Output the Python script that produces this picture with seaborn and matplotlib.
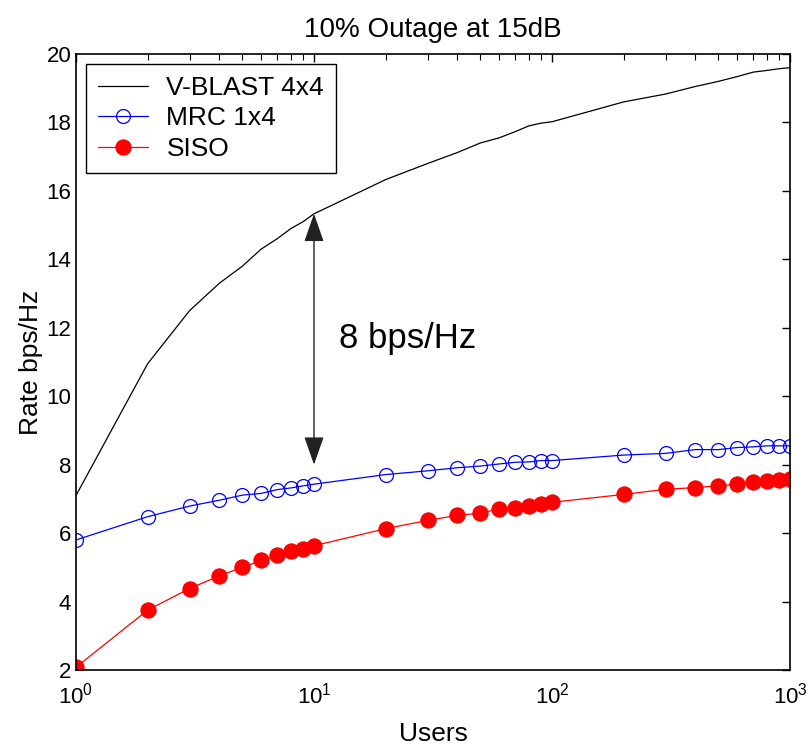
import numpy as np
import pandas as pd
import matplotlib
matplotlib.use("Agg")
import matplotlib.pyplot as plt
import seaborn as sns

users = [1, 2, 3, 4, 5, 6, 7, 8, 9, 10,
         20, 30, 40, 50, 60, 70, 80, 90, 100,
         200, 300, 400, 500, 600, 700, 800, 900, 1000]
vblast = [7.1, 10.95, 12.5, 13.3, 13.8, 14.3, 14.6, 14.9, 15.1, 15.33,
          16.33, 16.8, 17.12, 17.4, 17.55, 17.73, 17.9, 17.98, 18.02,
          18.6, 18.83, 19.05, 19.2, 19.34, 19.47, 19.52, 19.57, 19.6]
mrc = [5.8, 6.48, 6.79, 6.96, 7.11, 7.16, 7.27, 7.32, 7.38, 7.43,
       7.71, 7.82, 7.91, 7.96, 8.02, 8.07, 8.08, 8.12, 8.12,
       8.28, 8.33, 8.44, 8.44, 8.5, 8.52, 8.55, 8.55, 8.55]
siso = [2.08, 3.75, 4.38, 4.75, 5.0, 5.2, 5.36, 5.47, 5.54, 5.63,
        6.13, 6.37, 6.52, 6.58, 6.71, 6.74, 6.79, 6.85, 6.9,
        7.13, 7.28, 7.33, 7.38, 7.43, 7.49, 7.53, 7.56, 7.59]

series_names = ["V-BLAST 4x4", "MRC 1x4", "SISO"]
title = "10% Outage at 15dB"
xlabel = "Users"
ylabel = "Rate bps/Hz"
gap_label = "8 bps/Hz"
gap_x = 10
gap_low, gap_high = 8.0, 15.33

sns.set_theme(style="white")
plt.rcParams["font.family"] = ["Liberation Sans", "DejaVu Sans"]
plt.rcParams["mathtext.fontset"] = "custom"
plt.rcParams["mathtext.rm"] = "Liberation Sans"
plt.rcParams["mathtext.it"] = "Liberation Sans"
plt.rcParams["text.color"] = "black"
plt.rcParams["axes.labelcolor"] = "black"
plt.rcParams["xtick.color"] = "black"
plt.rcParams["ytick.color"] = "black"

df = pd.DataFrame({"users": users, "vblast": vblast, "mrc": mrc, "siso": siso})

fig = plt.figure(figsize=(8.08, 7.49), dpi=100)
ax = fig.add_axes([76/808, 1-670/749, (790-76)/808, (670-54)/749])

sns.lineplot(data=df, x="users", y="vblast", ax=ax, color="black", lw=0.9,
             label=series_names[0])
sns.lineplot(data=df, x="users", y="mrc", ax=ax, color="blue", lw=0.9,
             marker="o", markersize=10, markerfacecolor="none",
             markeredgecolor="blue", markeredgewidth=0.9, label=series_names[1])
sns.lineplot(data=df, x="users", y="siso", ax=ax, color="red", lw=0.9,
             marker="o", markersize=11, markerfacecolor="red",
             markeredgecolor="red", label=series_names[2])

ax.set_xscale("log")
ax.set_xlim(1, 1000)
ax.set_ylim(2, 20)
ax.set_yticks(np.arange(2, 21, 2))

for s in ax.spines.values():
    s.set_color("black")
    s.set_linewidth(1.2)
    s.set_visible(True)

ax.tick_params(which="both", direction="in", top=True, right=True,
               colors="black", labelsize=16)
ax.tick_params(which="major", length=6, width=1)
ax.tick_params(which="minor", length=4, width=0.8)
ax.tick_params(axis="x", pad=9)

ax.set_title(title, fontsize=20, pad=12, color="black")
ax.set_xlabel(xlabel, fontsize=19, labelpad=10, color="black")
ax.set_ylabel(ylabel, fontsize=19, labelpad=2, color="black")

ax.annotate("", xy=(gap_x, gap_high), xytext=(gap_x, gap_low),
            arrowprops=dict(arrowstyle="<|-|>,head_length=0.8,head_width=0.28",
                            color="#222222", lw=1.0,
                            mutation_scale=22, shrinkA=0, shrinkB=0))
ax.text(12.7, 11.7, gap_label, fontsize=25, ha="left", va="center",
        color="black")

leg = ax.legend(loc="upper left", bbox_to_anchor=(10/714, 1-10/616),
                borderaxespad=0, fontsize=19, frameon=True, fancybox=False,
                edgecolor="black", framealpha=1, handlelength=1.9,
                handletextpad=0.7, labelspacing=0.25, borderpad=0.45)
leg.get_frame().set_linewidth(1.0)
for t in leg.get_texts():
    t.set_color("black")

fig.savefig("out.png", dpi=100)
